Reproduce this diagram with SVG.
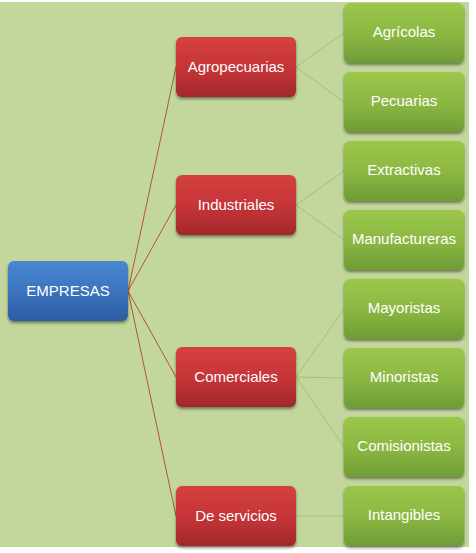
<svg xmlns="http://www.w3.org/2000/svg" width="476" height="553" viewBox="0 0 476 553">
<defs>
<linearGradient id="gRed" x1="0" y1="0" x2="0" y2="1">
<stop offset="0" stop-color="#d5403f"/>
<stop offset="0.5" stop-color="#c63538"/>
<stop offset="1" stop-color="#a2282b"/>
</linearGradient>
<linearGradient id="gGreen" x1="0" y1="0" x2="0" y2="1">
<stop offset="0" stop-color="#9cc74a"/>
<stop offset="0.5" stop-color="#8cb843"/>
<stop offset="1" stop-color="#6f9c35"/>
</linearGradient>
<linearGradient id="gBlue" x1="0" y1="0" x2="0" y2="1">
<stop offset="0" stop-color="#4a87d2"/>
<stop offset="0.5" stop-color="#3b74be"/>
<stop offset="1" stop-color="#2c5ca4"/>
</linearGradient>
<filter id="sh" x="-10%" y="-10%" width="120%" height="130%">
<feGaussianBlur in="SourceAlpha" stdDeviation="1.5"/>
<feOffset dx="0" dy="2" result="b"/>
<feComponentTransfer><feFuncA type="linear" slope="0.45"/></feComponentTransfer>
<feMerge><feMergeNode/><feMergeNode in="SourceGraphic"/></feMerge>
</filter>
</defs>
<style>
.box{filter:url(#sh);}
.red{fill:url(#gRed);}
.green{fill:url(#gGreen);}
.blue{fill:url(#gBlue);}
text{font-family:"Liberation Sans",Arial,sans-serif;font-size:15px;fill:#ffffff;text-anchor:middle;dominant-baseline:central;}
.cr{stroke:#b4533c;stroke-width:1;fill:none;}
.cg{stroke:#a3c46a;stroke-width:1;fill:none;}
</style>
<rect x="0" y="0" width="476" height="553" fill="#ffffff"/>
<rect x="0" y="2" width="469" height="545" fill="#c3d69b"/>
<g id="connectors">
<line class="cr" x1="128" y1="291" x2="176" y2="67"/>
<line class="cr" x1="128" y1="291" x2="176" y2="205"/>
<line class="cr" x1="128" y1="291" x2="176" y2="377"/>
<line class="cr" x1="128" y1="291" x2="176" y2="516"/>
<line class="cg" x1="296" y1="67" x2="344" y2="33"/>
<line class="cg" x1="296" y1="67" x2="344" y2="102"/>
<line class="cg" x1="296" y1="205" x2="344" y2="171"/>
<line class="cg" x1="296" y1="205" x2="344" y2="240"/>
<line class="cg" x1="296" y1="377" x2="344" y2="309"/>
<line class="cg" x1="296" y1="377" x2="344" y2="378"/>
<line class="cg" x1="296" y1="377" x2="344" y2="447"/>
<line class="cg" x1="296" y1="516" x2="344" y2="516"/>
</g>
<g id="empresas"><rect class="box blue" x="8" y="261" width="120" height="60" rx="6"/><text x="68" y="290">EMPRESAS</text></g>
<g id="agropecuarias"><rect class="box red" x="176" y="37" width="120" height="60" rx="6"/><text x="236" y="66">Agropecuarias</text></g>
<g id="industriales"><rect class="box red" x="176" y="175" width="120" height="60" rx="6"/><text x="236" y="204">Industriales</text></g>
<g id="comerciales"><rect class="box red" x="176" y="347" width="120" height="60" rx="6"/><text x="236" y="376">Comerciales</text></g>
<g id="servicios"><rect class="box red" x="176" y="486" width="120" height="60" rx="6"/><text x="236" y="515">De servicios</text></g>
<g id="agricolas"><rect class="box green" x="344" y="3" width="120" height="60" rx="6"/><text x="404" y="31">Agrícolas</text></g>
<g id="pecuarias"><rect class="box green" x="344" y="72" width="120" height="60" rx="6"/><text x="404" y="100">Pecuarias</text></g>
<g id="extractivas"><rect class="box green" x="344" y="141" width="120" height="60" rx="6"/><text x="404" y="169">Extractivas</text></g>
<g id="manufactureras"><rect class="box green" x="344" y="210" width="120" height="60" rx="6"/><text x="404" y="238">Manufactureras</text></g>
<g id="mayoristas"><rect class="box green" x="344" y="279" width="120" height="60" rx="6"/><text x="404" y="307">Mayoristas</text></g>
<g id="minoristas"><rect class="box green" x="344" y="348" width="120" height="60" rx="6"/><text x="404" y="376">Minoristas</text></g>
<g id="comisionistas"><rect class="box green" x="344" y="417" width="120" height="60" rx="6"/><text x="404" y="445">Comisionistas</text></g>
<g id="intangibles"><rect class="box green" x="344" y="486" width="120" height="60" rx="6"/><text x="404" y="514">Intangibles</text></g>
</svg>
